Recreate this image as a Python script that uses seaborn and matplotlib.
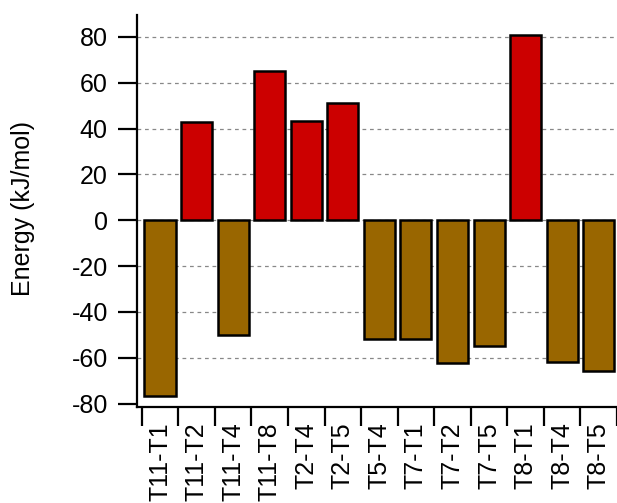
import matplotlib
matplotlib.use("Agg")
import matplotlib.pyplot as plt
import seaborn as sns
import pandas as pd
import numpy as np

# datos
pairs = ["T11-T1", "T11-T2", "T11-T4", "T11-T8", "T2-T4", "T2-T5", "T5-T4",
         "T7-T1", "T7-T2", "T7-T5", "T8-T1", "T8-T4", "T8-T5"]
energy = [-76.7, 43, -50.3, 65, 43.5, 51.2, -52, -51.8, -62.3, -54.8, 80.8, -62, -65.6]

df = pd.DataFrame({"pair": pairs, "energy": energy})
df["sign"] = np.where(df["energy"] >= 0, "pos", "neg")
colores = {"pos": "#CC0000", "neg": "#996600"}

sns.set_style("white")
plt.rcParams["font.family"] = ["Liberation Sans", "DejaVu Sans"]
plt.rcParams["axes.unicode_minus"] = False
plt.rcParams["text.color"] = "black"
plt.rcParams["axes.labelcolor"] = "black"
plt.rcParams["xtick.color"] = "black"
plt.rcParams["ytick.color"] = "black"

fig = plt.figure(figsize=(6.17, 5.03), dpi=100)
ax = fig.add_axes([0.222, 0.1909, 0.778, 0.7793])
sns.barplot(data=df, x="pair", y="energy", hue="sign", palette=colores,
            dodge=False, width=0.85, edgecolor="black", linewidth=1.8,
            saturation=1, legend=False, ax=ax, zorder=3)

ax.set_xlim(-0.63, 12.5)
ax.set_ylim(-81.5, 89.6)

# ticks
ax.set_yticks(range(-80, 81, 20))
ax.tick_params(axis="y", direction="out", length=14, width=1.6, labelsize=18, pad=7, left=True)
n = len(pairs)
ax.set_xticks(np.arange(-0.5, n, 1.0))
ax.set_xticklabels([])
ax.set_xticks(np.arange(n), minor=True)
ax.set_xticklabels(pairs, minor=True, rotation=90, va="top", ha="center")
ax.tick_params(axis="x", which="major", direction="out", length=14, width=1.6, bottom=True)
ax.tick_params(axis="x", which="minor", length=0, labelsize=18, pad=11)

ax.set_xlabel("")
ax.set_ylabel("Energy (kJ/mol)", fontsize=18)
ax.yaxis.set_label_coords(-0.212, 0.506)

for s in ["top", "right"]:
    ax.spines[s].set_visible(False)
for s in ["left", "bottom"]:
    ax.spines[s].set_linewidth(1.6)
    ax.spines[s].set_color("black")

ax.yaxis.grid(True, linestyle=(0, (3, 3)), color="#888888", linewidth=0.9)
ax.set_axisbelow(True)
ax.yaxis.get_gridlines()[0].set_visible(False)

plt.savefig("out.png", dpi=100)
